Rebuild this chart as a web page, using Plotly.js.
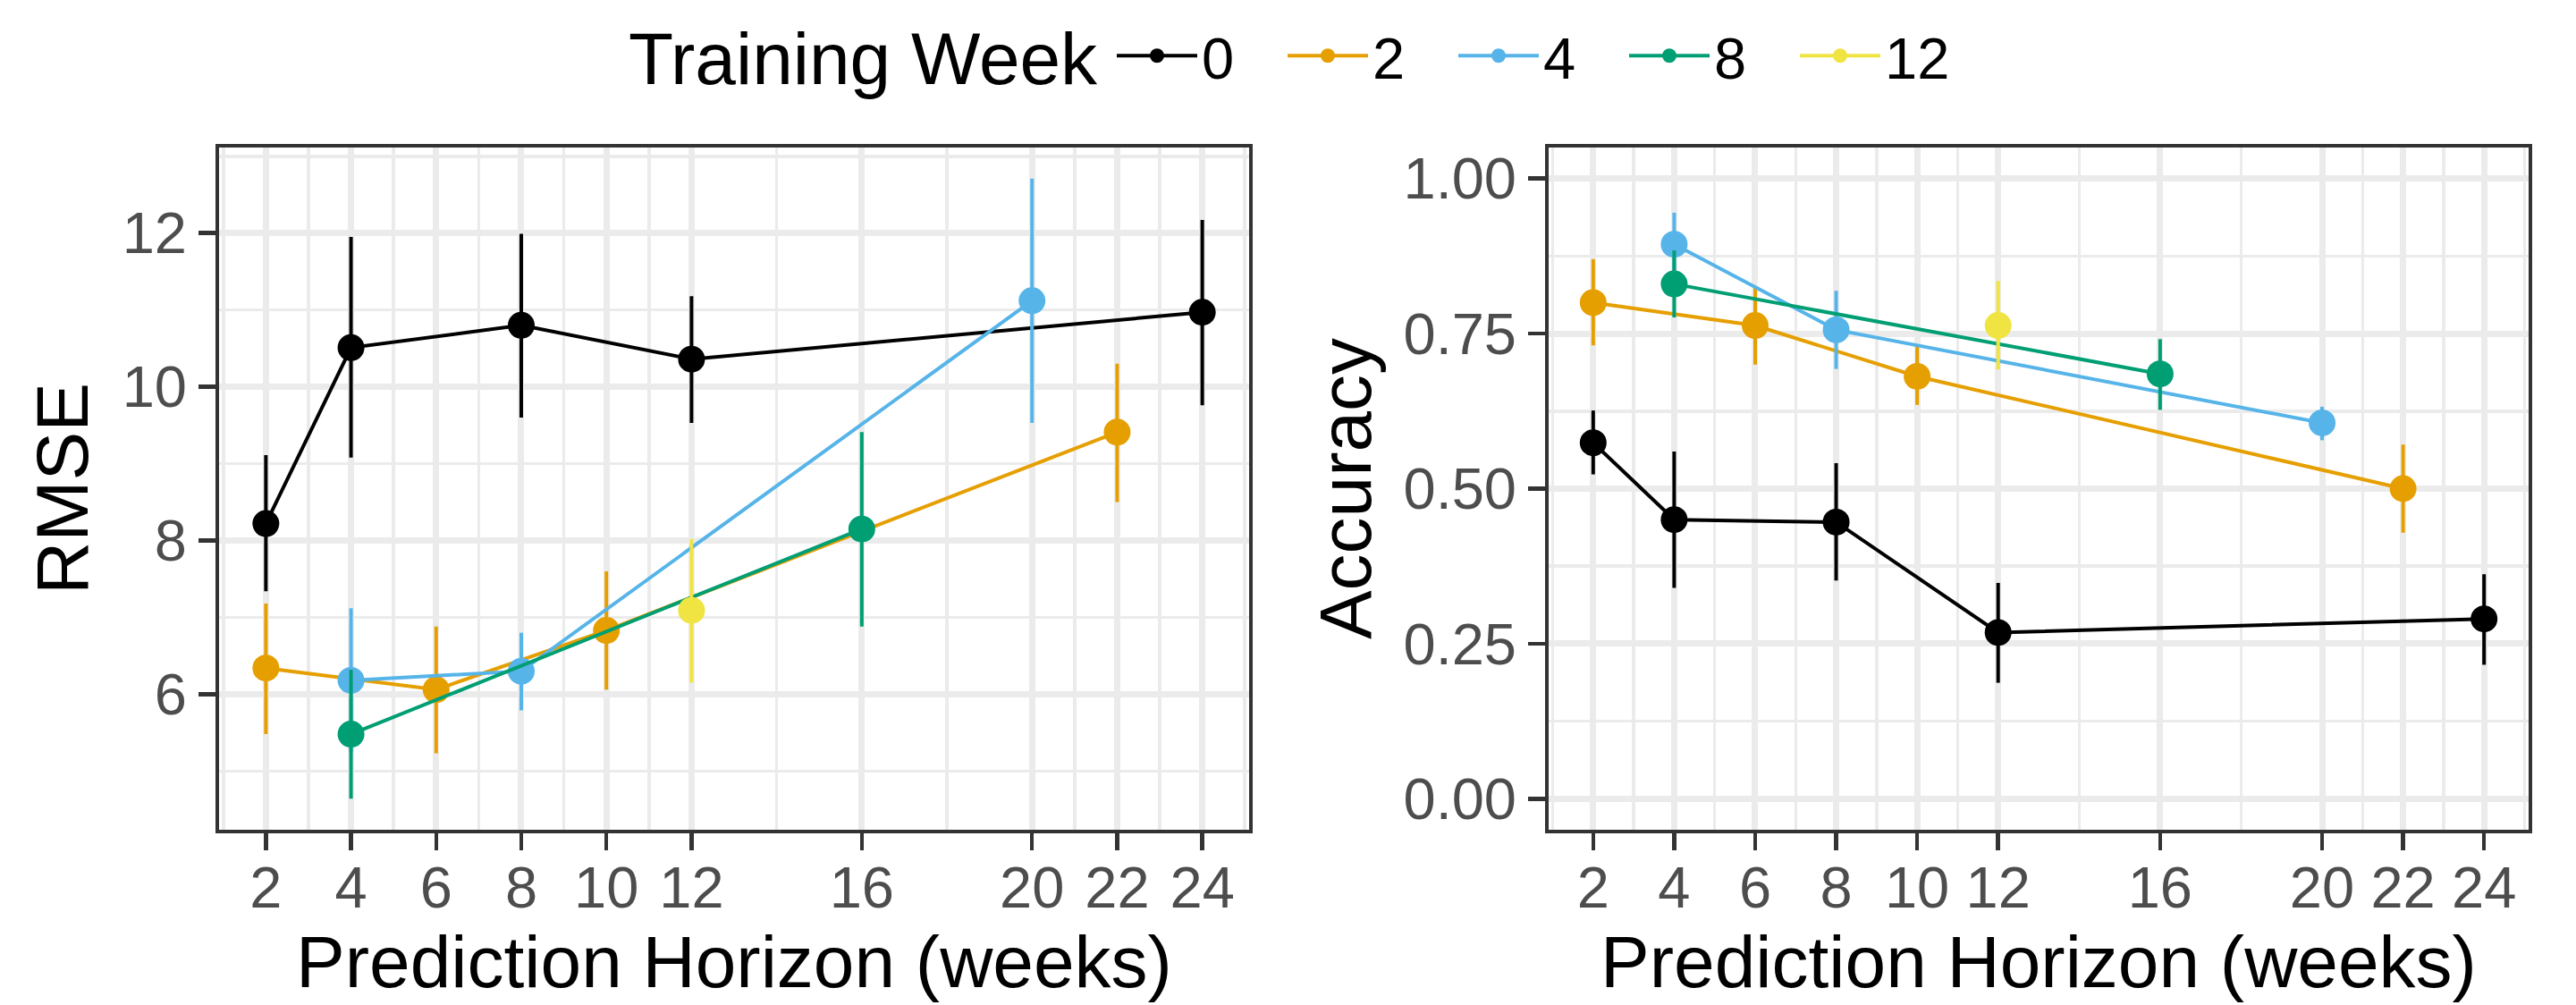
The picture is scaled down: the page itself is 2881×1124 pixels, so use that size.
<!DOCTYPE html>
<html>
<head>
<meta charset="utf-8">
<script src="https://cdn.plot.ly/plotly-3.0.1.min.js"></script>
<style>
  html, body { margin: 0; padding: 0; background: #ffffff; }
  #chart { width: 2881px; height: 1124px; }
</style>
</head>
<body>
<div id="chart"></div>
<script>
// ---- Data ----
const legendTitle = "Training Week";
const weeks = ["0", "2", "4", "8", "12"];
const colors = ["#000000", "#E69F00", "#56B4E9", "#009E73", "#F0E442"];
const xTicks = [2, 4, 6, 8, 10, 12, 16, 20, 22, 24];

// Horizons per training week
const horizon0 = [2, 4, 8, 12, 24];
const horizon2 = [2, 6, 10, 22];
const horizon4 = [4, 8, 20];
const horizon8 = [4, 16];
const horizon12 = [12];

// RMSE (mean, lower, upper)
const rmse0 = [8.22, 10.51, 10.80, 10.36, 10.97];
const rmse0Lo = [7.34, 9.08, 9.60, 9.53, 9.76];
const rmse0Hi = [9.11, 11.95, 11.99, 11.18, 12.17];
const rmse2 = [6.34, 6.06, 6.83, 9.41];
const rmse2Lo = [5.48, 5.23, 6.06, 8.50];
const rmse2Hi = [7.18, 6.88, 7.60, 10.30];
const rmse4 = [6.18, 6.30, 11.12];
const rmse4Lo = [5.24, 5.79, 9.53];
const rmse4Hi = [7.12, 6.80, 12.71];
const rmse8 = [5.48, 8.15];
const rmse8Lo = [4.64, 6.88];
const rmse8Hi = [6.32, 9.41];
const rmse12 = [7.09];
const rmse12Lo = [6.15];
const rmse12Hi = [8.02];

// Accuracy (mean, lower, upper)
const acc0 = [0.574, 0.450, 0.446, 0.268, 0.290];
const acc0Lo = [0.523, 0.340, 0.352, 0.187, 0.216];
const acc0Hi = [0.626, 0.560, 0.541, 0.348, 0.362];
const acc2 = [0.800, 0.763, 0.681, 0.500];
const acc2Lo = [0.731, 0.700, 0.635, 0.429];
const acc2Hi = [0.870, 0.826, 0.731, 0.571];
const acc4 = [0.894, 0.756, 0.606];
const acc4Lo = [0.843, 0.693, 0.578];
const acc4Hi = [0.945, 0.819, 0.632];
const acc8 = [0.830, 0.685];
const acc8Lo = [0.776, 0.627];
const acc8Hi = [0.884, 0.741];
const acc12 = [0.763];
const acc12Lo = [0.692];
const acc12Hi = [0.835];

const horizons = [horizon0, horizon2, horizon4, horizon8, horizon12];
const rmse = [rmse0, rmse2, rmse4, rmse8, rmse12];
const rmseLo = [rmse0Lo, rmse2Lo, rmse4Lo, rmse8Lo, rmse12Lo];
const rmseHi = [rmse0Hi, rmse2Hi, rmse4Hi, rmse8Hi, rmse12Hi];
const acc = [acc0, acc2, acc4, acc8, acc12];
const accLo = [acc0Lo, acc2Lo, acc4Lo, acc8Lo, acc12Lo];
const accHi = [acc0Hi, acc2Hi, acc4Hi, acc8Hi, acc12Hi];

// ---- Helpers ----
function expand(lo, hi) { const d = hi - lo; return [lo - 0.05 * d, hi + 0.05 * d]; }
function minorBreaks(br, range) {
  const n = br.length;
  const b = [br[0] - (br[1] - br[0])].concat(br, [br[n - 1] + (br[n - 1] - br[n - 2])]);
  const out = [];
  for (let i = 0; i < b.length - 1; i++) {
    const m = (b[i] + b[i + 1]) / 2;
    if (m >= range[0] && m <= range[1]) out.push(m);
  }
  return out;
}

function makeTrace(i, ys, lo, hi, xa, ya, legend) {
  return {
    type: 'scatter', mode: 'lines+markers',
    x: horizons[i], y: ys, xaxis: xa, yaxis: ya,
    name: weeks[i], legendgroup: weeks[i], showlegend: legend,
    line: { color: colors[i], width: 4 },
    marker: { color: colors[i], size: 30 },
    error_y: {
      type: 'data', symmetric: false,
      array: hi.map((v, k) => v - ys[k]),
      arrayminus: lo.map((v, k) => ys[k] - v),
      color: colors[i], thickness: 4, width: 0
    }
  };
}

const traces = [];
weeks.forEach((w, i) => traces.push(makeTrace(i, rmse[i], rmseLo[i], rmseHi[i], 'x', 'y', true)));
weeks.forEach((w, i) => traces.push(makeTrace(i, acc[i], accLo[i], accHi[i], 'x2', 'y2', false)));

const xRange = expand(Math.min(...xTicks), Math.max(...xTicks));
const allLo = [].concat(...rmseLo), allHi = [].concat(...rmseHi);
const yRange = expand(Math.min(...allLo), Math.max(...allHi));
const y2Range = expand(0, 1);
const yTicks = [6, 8, 10, 12];
const y2Ticks = [0, 0.25, 0.5, 0.75, 1];
const y2Text = ["0.00", "0.25", "0.50", "0.75", "1.00"];

const FONT = 'Liberation Sans, Arial, Helvetica, sans-serif';
const gridC = '#EBEBEB';
const lineC = '#333333';

function xAxis(domain, anchor) {
  return {
    domain: domain, anchor: anchor, range: xRange,
    tickmode: 'array', tickvals: xTicks, ticktext: xTicks.map(String),
    ticks: 'outside', ticklen: 19, tickwidth: 4.5, tickcolor: lineC,
    ticklabelstandoff: -14,
    tickfont: { size: 65, color: '#4D4D4D', family: FONT },
    showgrid: true, gridcolor: gridC, gridwidth: 7,
    minor: { tickmode: 'array', tickvals: minorBreaks(xTicks, xRange), showgrid: true, gridcolor: gridC, gridwidth: 3.5, ticks: '' },
    showline: true, linecolor: lineC, linewidth: 4, mirror: true, zeroline: false,
    title: { text: 'Prediction Horizon (weeks)', font: { size: 82, color: '#000000', family: FONT }, standoff: 20 },
    automargin: false, fixedrange: true
  };
}
function yAxis(domain, anchor, range, ticks, text, title, standoff) {
  return {
    domain: domain, anchor: anchor, range: range,
    tickmode: 'array', tickvals: ticks, ticktext: text,
    ticks: 'outside', ticklen: 19, tickwidth: 4.5, tickcolor: lineC,
    tickfont: { size: 65, color: '#4D4D4D', family: FONT },
    showgrid: true, gridcolor: gridC, gridwidth: 7,
    minor: { tickmode: 'array', tickvals: minorBreaks(ticks, range), showgrid: true, gridcolor: gridC, gridwidth: 3.5, ticks: '' },
    showline: true, linecolor: lineC, linewidth: 4, mirror: true, zeroline: false,
    title: { text: title, font: { size: 82, color: '#000000', family: FONT }, standoff: standoff },
    automargin: false, fixedrange: true
  };
}

const yDomain = [1 - 928 / 1124, 1 - 165 / 1124];
const layout = {
  width: 2881, height: 1124,
  margin: { l: 0, r: 0, t: 0, b: 0, pad: 0 },
  paper_bgcolor: '#ffffff', plot_bgcolor: '#ffffff',
  font: { family: FONT, color: '#000000' },
  xaxis: xAxis([245 / 2881, 1397 / 2881], 'y'),
  yaxis: yAxis(yDomain, 'x', yRange, yTicks, yTicks.map(String), 'RMSE', 12),
  xaxis2: xAxis([1732 / 2881, 2828 / 2881], 'y2'),
  yaxis2: yAxis(yDomain, 'x2', y2Range, y2Ticks, y2Text, 'Accuracy', 10),
  showlegend: true,
  legend: {
    orientation: 'h', x: 1244 / 2881, xanchor: 'left', y: 0.988, yanchor: 'top',
    font: { size: 65, color: '#000000', family: FONT },
    itemwidth: 90, entrywidth: 86, traceorder: 'normal',
    bgcolor: 'rgba(0,0,0,0)', borderwidth: 0
  },
  annotations: [{
    text: legendTitle, xref: 'paper', yref: 'paper',
    x: 701 / 2881, xanchor: 'left', y: 1 - 66 / 1124, yanchor: 'middle',
    showarrow: false, font: { size: 82, color: '#000000', family: FONT }
  }],
  hovermode: false
};

Plotly.newPlot('chart', traces, layout, { displayModeBar: false, staticPlot: true });
</script>
</body>
</html>
